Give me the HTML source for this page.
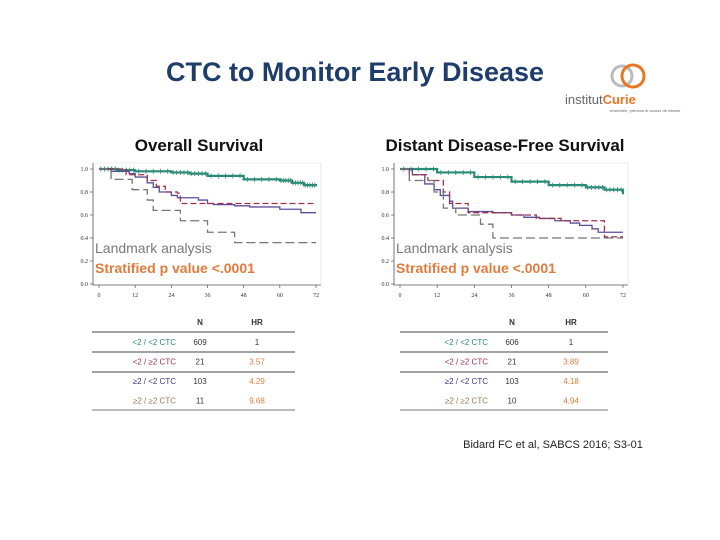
<!DOCTYPE html>
<html><head><meta charset="utf-8"><style>
body{margin:0;width:720px;height:540px;background:#fff;overflow:hidden;font-family:"Liberation Sans",sans-serif;}
svg{position:absolute;left:0;top:0}
</style></head><body>
<svg width="720" height="540">
<text x="355" y="81" text-anchor="middle" font-size="27" font-weight="bold" fill="#1f3d6b">CTC to Monitor Early Disease</text>
<g>
<circle cx="622" cy="76" r="10" fill="none" stroke="#bbb" stroke-width="3"/>
<circle cx="633" cy="76" r="11" fill="none" stroke="#e87722" stroke-width="3"/>
<text x="565" y="104" font-size="13" fill="#666">institut<tspan fill="#e87722" font-weight="bold">Curie</tspan></text>
<text x="610" y="112" font-size="4" fill="#666">ensemble, prenons le cancer de vitesse</text>
</g>
<text x="199" y="151" text-anchor="middle" font-size="17" font-weight="bold" fill="#111">Overall Survival</text>
<text x="505" y="151" text-anchor="middle" font-size="17" font-weight="bold" fill="#111">Distant Disease-Free Survival</text>
<g id="c1"></g>
<g id="c2"></g>
<g id="t1"></g>
<g id="t2"></g>
<text x="553" y="448" text-anchor="middle" font-size="11" fill="#222">Bidard FC et al, SABCS 2016; S3-01</text>
</svg>
<script>
const xTicks=[0,12,24,36,48,60,72];
const yTicks=[0,0.2,0.4,0.6,0.8,1.0];
const osGreen=[[0,1],[6,0.99],[12,0.98],[24,0.97],[30,0.96],[36,0.94],[48,0.91],[60,0.90],[64,0.88],[68,0.86],[72,0.85]];
const osPurple=[[0,1],[4,0.98],[10,0.96],[12,0.93],[16,0.88],[18,0.84],[20,0.80],[24,0.77],[26,0.75],[33,0.73],[36,0.70],[38,0.69],[45,0.68],[50,0.67],[60,0.65],[67,0.62],[72,0.62]];
const osRed=[[0,1],[9,0.95],[16,0.90],[19,0.85],[22,0.80],[26,0.79],[27,0.70],[72,0.70]];
const osGrey=[[0,1],[4,0.91],[11,0.82],[16,0.73],[18,0.64],[27,0.55],[36,0.45],[45,0.36],[72,0.36]];
const dfGreen=[[0,1],[12,0.97],[24,0.93],[36,0.89],[48,0.86],[60,0.84],[66,0.82],[72,0.78]];
const dfPurple=[[0,1],[4,0.95],[8,0.87],[11,0.82],[13,0.77],[16,0.72],[17,0.66],[22,0.63],[30,0.62],[36,0.60],[40,0.58],[45,0.57],[50,0.55],[55,0.53],[58,0.51],[62,0.48],[64,0.45],[72,0.45]];
const dfRed=[[0,1],[3,0.95],[9,0.90],[14,0.80],[16,0.70],[22,0.62],[36,0.60],[44,0.57],[52,0.55],[66,0.41],[72,0.41]];
const dfGrey=[[0,1],[3,0.90],[11,0.80],[14,0.66],[18,0.60],[26,0.52],[30,0.40],[72,0.40]];
const groups=["<2 / <2 CTC","<2 / ≥2 CTC","≥2 / <2 CTC","≥2 / ≥2 CTC"];
const osN=[609,21,103,11];
const osHR=["1","3.57","4.29","9.68"];
const dfN=[606,21,103,10];
const dfHR=["1","3.89","4.18","4.94"];
const NS="http://www.w3.org/2000/svg";
function mk(p,tag,a,txt){const e=document.createElementNS(NS,tag);for(const k in a)e.setAttribute(k,a[k]);if(txt!=null)e.textContent=txt;p.appendChild(e);return e;}
function chart(id,x0,x1,series){
  const g=document.getElementById(id);const yT=169,yB=284;
  const X=t=>x0+(x1-x0)*t/72, Y=s=>yB-(yB-yT)*s;
  const ax=mk(g,'path',{d:`M${x0-6} ${yT-6}V${yB+1}H${x1+5}`,fill:'none',stroke:'#555','stroke-width':0.8});
  
  mk(g,'path',{d:`M${x0-6} ${yT-6}H${x1+5}V${yB+1}`,fill:'none',stroke:'#ddd','stroke-width':0.6});
  xTicks.forEach(t=>{mk(g,'line',{x1:X(t),x2:X(t),y1:yB+1,y2:yB+4,stroke:'#555','stroke-width':0.7});
    const l=mk(g,'text',{x:X(t),y:yB+13,'text-anchor':'middle','font-size':6,'font-family':'Liberation Serif',fill:'#333'},t);
    });
  yTicks.forEach(s=>{mk(g,'line',{x1:x0-9,x2:x0-6,y1:Y(s),y2:Y(s),stroke:'#555','stroke-width':0.7});
    const l=mk(g,'text',{x:x0-11,y:Y(s)+2,'text-anchor':'end','font-size':6,'font-family':'Liberation Serif',fill:'#333'},s.toFixed(1));
    });
  series.forEach(([d,col,dash,name,w])=>{let p=`M${X(d[0][0])} ${Y(d[0][1])}`;
    for(let i=1;i<d.length;i++)p+=`H${X(d[i][0])}V${Y(d[i][1])}`;
    const e=mk(g,'path',{d:p,fill:'none',stroke:col,'stroke-width':w,'stroke-dasharray':dash});
    
    if(w>2){let c='';for(let i=0;i<d.length-1;i++){for(let k=0;k<5;k++){const t=d[i][0]+(d[i+1][0]-d[i][0])*(k+0.5)/5;c+=`M${X(t)} ${Y(d[i][1])-2.5}v5`;}}
      mk(g,'path',{d:c,stroke:col,'stroke-width':0.8,fill:'none'});}});
  const a=mk(g,'text',{x:x0-4,y:253,'font-size':14,fill:'#7a7a7a'},'Landmark analysis');
  
  const b=mk(g,'text',{x:x0-4,y:273,'font-size':14,'font-weight':'bold',fill:'#e07b3c'},'Stratified p value <.0001');
  
}
chart('c1',99,316,[[osGreen,'#2a8a78','','series-green',2.2],[osPurple,'#5b4e9a','','series-purple',1.3],[osRed,'#a0304a','6 3','series-red',1.3],[osGrey,'#777','9 4','series-grey',1.3]]);
chart('c2',400,623,[[dfGreen,'#2a8a78','','series-green',2.2],[dfPurple,'#5b4e9a','','series-purple',1.3],[dfRed,'#a0304a','6 3','series-red',1.3],[dfGrey,'#777','9 4','series-grey',1.3]]);
const cols=['#2a8a78','#a0304a','#3a3a80','#9a7a50'];
function table(id,lx,rx,labX,nX,hrX,N,HR){
  const g=document.getElementById(id);
  mk(g,'text',{x:nX,y:325,'text-anchor':'middle','font-size':8,'font-weight':'bold',fill:'#333'},'N');
  mk(g,'text',{x:hrX,y:325,'text-anchor':'middle','font-size':8,'font-weight':'bold',fill:'#333'},'HR');
  [332,352,372,410].forEach((y,i)=>mk(g,'line',{x1:lx,x2:rx,y1:y,y2:y,stroke:i==3?'#777':'#444','stroke-width':1}));
  groups.forEach((gr,i)=>{const y=345+i*19.5;
    const r=mk(g,'text',{x:labX,y:y,'text-anchor':'end','font-size':8,fill:cols[i]},gr);
    
    mk(g,'text',{x:nX,y:y,'text-anchor':'middle','font-size':8,fill:'#333'},N[i]);
    mk(g,'text',{x:hrX,y:y,'text-anchor':'middle','font-size':8,fill:i?'#e07b3c':'#333'},HR[i]);});
}
table('t1',92,295,176,200,257,osN,osHR);
table('t2',400,608,488,512,571,dfN,dfHR);
</script>
</body></html>
